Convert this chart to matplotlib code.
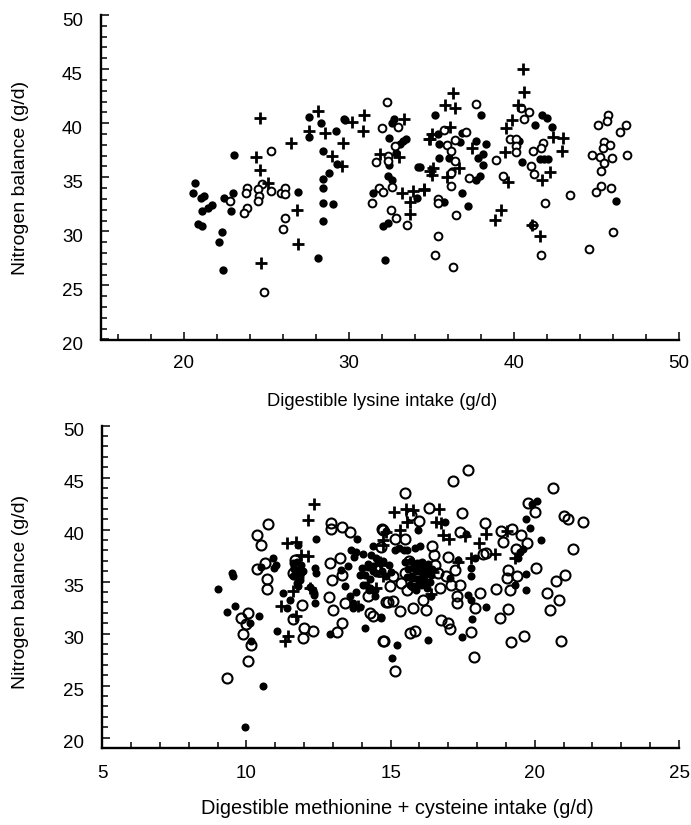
import matplotlib
matplotlib.use("Agg")
import matplotlib.pyplot as plt
from matplotlib.ticker import MultipleLocator
from matplotlib.transforms import ScaledTranslation

plt.rcParams['font.family'] = ['Liberation Sans', 'DejaVu Sans']

x_label_top = "Digestible lysine intake (g/d)"
x_label_bottom = "Digestible methionine + cysteine intake (g/d)"
y_label = "Nitrogen balance (g/d)"

# Upper panel
top_filled_x = [20.7,20.6,21.07,21.23,21.7,21.5,21.1,20.9,21.1,22.34,22.14,22.4,23.05,22.42,22.97,22.85,26.9,27.6,28.34,27.6,29.7,29.78,29.2,28.44,29.3,28.83,28.44,28.44,28.44,29.07,28.44,28.14,32.2,34.2,32.73,32.65,32.44,33.45,33.29,33.09,32.89,32.42,32.38,32.65,31.5,32.08,32.38,34.14,
    35.23,38.0,36.83,36.76,35.41,35.47,37.69,38.34,35.45,36.06,38.14,37.84,38.14,34.3,36.28,37.94,37.73,36.83,35.75,37.25,41.73,42.0,41.27,42.32,40.32,40.52,41.57,41.8,42.06,41.17,46.2]
top_filled_y = [34.45,33.56,33.1,33.3,32.4,32.15,31.84,30.7,30.5,29.9,29.0,26.47,37.03,33.04,33.56,31.87,33.65,40.55,39.97,38.74,40.37,40.3,39.27,37.42,36.26,35.43,34.85,33.96,32.64,32.55,30.95,27.55,27.36,35.95,40.34,39.97,38.65,38.56,38.35,38.04,37.27,36.14,35.1,34.75,33.56,30.5,30.77,33.1,
    40.74,40.74,39.1,38.25,38.96,38.04,38.34,38.04,36.78,36.8,37.18,36.8,36.14,35.98,35.58,35.12,34.76,33.56,32.73,32.36,40.77,40.46,39.85,39.66,38.34,36.44,36.66,36.66,36.66,30.6,32.85]
top_open_x = [25.27,23.84,23.76,22.79,23.84,23.63,24.75,24.5,24.56,24.5,25.3,25.88,26.16,26.16,26.16,26.04,24.9,32.32,32.04,33.0,32.79,32.38,32.38,31.63,32.65,31.84,32.08,31.41,32.54,32.89,33.5,
    37.73,35.77,37.09,36.46,35.98,36.22,36.46,36.22,37.27,36.22,35.41,35.41,36.52,35.41,35.25,36.34,38.93,39.35,40.46,40.93,40.64,39.75,40.12,40.12,40.1,41.13,41.77,41.67,41.03,41.19,43.39,41.88,41.17,41.63,44.56,45.98,45.71,45.63,45.09,46.8,46.42,45.45,45.8,45.37,44.72,45.2,45.96,46.87,45.47,45.29,45.27,45.9,44.95]
top_open_y = [37.4,33.96,33.53,32.76,32.18,31.72,34.36,33.9,33.3,32.76,33.74,33.56,33.96,33.44,31.23,30.2,24.4,42.0,39.57,39.66,37.88,37.0,36.5,36.44,34.14,34.05,33.6,32.61,32.0,31.2,30.6,
    41.78,39.4,39.17,38.4,37.95,37.45,36.5,35.43,34.9,34.2,32.97,32.6,31.54,29.6,27.8,26.7,36.6,35.12,41.4,41.07,40.4,38.5,38.5,37.88,37.36,37.4,38.2,37.67,36.04,35.28,33.38,32.6,30.6,27.8,28.38,29.9,40.8,40.2,39.8,39.8,39.14,38.25,37.98,37.67,37.1,36.87,36.78,37.03,36.35,35.55,34.2,34.0,33.68]
top_plus_x = [24.6,24.38,24.64,25.13,26.52,26.87,26.93,24.7,28.16,27.57,28.56,29.65,28.99,29.6,30.18,30.93,30.87,33.35,31.88,33.05,33.23,33.9,34.54,33.74,33.7,34.85,34.95,
    40.56,40.64,36.3,35.84,36.42,40.26,39.86,39.51,36.16,35.07,34.91,37.49,39.49,42.38,42.95,42.89,35.11,35.07,36.68,35.96,42.18,41.73,39.63,34.54,39.25,38.85,41.11,41.61]
top_plus_y = [40.5,36.9,35.68,34.5,38.2,32.0,28.84,27.06,41.1,39.27,39.1,38.13,36.93,36.04,40.12,40.74,39.23,40.43,37.12,36.9,33.5,33.74,33.9,32.73,31.6,38.56,35.6,
    45.0,42.9,42.8,41.66,41.44,41.72,40.28,39.57,39.66,38.96,38.56,37.73,37.33,38.71,38.6,37.4,35.9,35.2,35.86,35.03,35.5,34.73,34.6,33.84,31.96,31.04,30.6,29.6]

# Lower panel
bot_filled_x = [9.95,9.0,9.49,9.53,9.32,9.61,10.45,10.57,10.11,10.16,10.92,11.03,10.97,10.51,11.06,11.26,11.52,11.4,11.78,12.42,12.36,12.42,12.3,12.33,12.36,11.73,11.84,11.78,11.61,11.9,12.91,13.84,14.39,13.64,13.81,14.04,14.31,13.72,13.52,13.29,13.93,14.21,14.39,13.43,13.81,13.58,13.69,13.69,13.93,14.1,14.66,14.16,14.27,14.45,14.85,
    20.06,19.89,19.68,19.83,20.23,19.6,19.48,19.42,17.63,16.88,15.95,17.8,17.8,17.92,16.03,17.69,17.77,18.29,17.83,17.48,16.31,15.22,15.05,14.68,19.71,19.68,19.31,15.14,15.55,15.84,16.01,16.24,15.89,16.12,15.78,16.01,15.66,16.24,16.36,15.89,16.41,17.05,17.34,
    15.5,15.7,15.9,16.1,16.3,16.45,15.6,15.8,16.0,16.2,16.4,15.55,15.75,15.95,16.15,16.35,15.85,16.05,16.25,
    11.6,11.75,11.9,11.65,11.8,11.95,11.7,11.85,11.75,12.2,12.35,
    14.0,14.2,14.4,14.6,14.1,14.3,14.5,14.05,14.25,14.45,
    14.5,14.75,14.95,14.7,15.0,14.85,15.3,15.45]
bot_filled_y = [21.0,34.25,35.8,35.5,32.05,32.7,31.7,25.0,31.05,29.3,37.25,36.6,36.3,36.45,30.25,33.9,33.2,32.5,38.5,39.1,36.3,35.8,34.2,33.75,32.95,35.65,35.2,34.55,35.5,35.8,30.0,39.1,38.45,38.05,37.9,37.7,37.55,37.4,36.5,36.1,35.65,36.45,36.0,34.6,34.05,33.6,32.95,32.5,32.6,30.55,31.6,34.7,34.4,34.2,39.9,
    42.8,42.5,41.0,40.2,39.0,38.15,37.9,37.25,39.6,40.75,39.95,35.5,36.3,37.25,38.45,33.75,33.2,32.55,31.45,29.65,29.35,28.95,27.7,31.5,34.2,35.75,34.7,38.05,38.05,38.2,36.75,36.45,36.0,35.65,35.35,35.0,34.7,35.0,35.8,34.2,33.6,35.35,37.05,
    36.9,37.0,36.8,36.9,36.7,36.2,36.2,36.3,36.0,36.1,35.6,35.4,35.5,35.3,35.4,35.0,34.6,34.7,34.4,
    36.8,36.9,36.6,36.2,36.1,36.0,35.5,35.4,34.9,34.5,33.9,
    36.3,36.7,36.5,36.9,35.6,35.3,35.8,34.7,34.2,33.6,
    37.3,37.0,36.6,36.0,35.9,35.5,38.2,38.0]
bot_open_x = [9.32,10.06,10.16,9.87,9.99,9.82,10.05,10.74,10.36,10.49,10.36,10.63,10.72,10.72,12.92,12.92,13.3,13.59,11.67,12.91,13.23,12.98,13.31,12.86,12.99,13.43,13.31,13.15,12.3,11.98,11.96,11.61,11.93,14.74,14.71,14.68,14.27,14.39,14.21,14.83,11.73,11.61,
    17.69,17.15,15.49,20.62,19.77,20.0,16.33,17.46,15.99,15.72,18.28,21.01,21.16,21.68,17.4,18.84,19.21,19.52,18.88,19.74,19.34,21.31,16.45,16.99,16.49,18.32,18.21,15.64,20.04,21.04,20.75,19.08,19.04,19.39,18.67,19.13,18.09,20.41,20.84,20.52,19.08,18.79,17.92,17.42,17.3,17.3,16.99,16.74,17.07,15.84,15.66,14.76,15.16,17.8,17.9,19.19,19.61,20.9,15.34,15.78,16.24,14.91,15.08,16.12,14.97,15.37,16.7,17.11,15.55,15.78,15.49,15.08,16.65,16.93,17.22,16.53,15.14,14.74,15.49]
bot_open_y = [25.7,27.4,28.9,29.95,30.9,31.5,31.95,40.5,39.5,38.5,36.25,36.8,35.3,34.3,40.65,40.1,40.3,39.8,37.1,36.8,37.3,35.2,35.6,33.5,32.25,32.9,31.0,30.15,30.3,30.55,29.55,31.45,32.75,29.3,40.05,38.3,31.95,31.7,33.6,33.0,36.45,35.8,
    45.7,44.7,43.55,44.05,42.6,41.7,42.1,41.6,40.85,41.4,40.65,41.35,41.0,40.75,39.75,39.85,40.1,39.5,38.8,38.7,38.15,38.1,38.45,37.4,37.55,37.75,37.65,37.0,36.3,35.6,35.1,36.15,35.35,35.55,34.3,34.15,33.9,33.9,33.25,32.25,32.4,31.5,32.45,34.7,33.6,32.95,31.05,31.35,30.45,30.3,30.05,29.3,26.4,30.2,27.8,29.2,29.75,29.3,32.15,32.45,32.3,33.0,33.1,33.25,34.55,34.85,34.4,34.7,34.2,34.7,35.8,35.5,35.8,35.5,36.15,36.6,39.15,39.95,39.15]
bot_plus_x = [12.33,12.14,11.4,11.73,11.88,12.14,11.61,11.2,11.73,11.32,11.44,12.19,13.87,14.5,14.62,14.74,
    15.11,15.52,15.78,16.66,15.55,16.59,16.76,16.82,17.02,17.57,18.32,18.07,18.61,17.8,17.34,19.31,19.02,15.31,14.85,14.74,14.68,14.74,16.41,16.12,16.47]
bot_plus_y = [42.45,40.9,38.75,38.85,37.55,37.5,34.1,32.7,31.65,29.3,29.75,34.4,32.7,34.4,36.9,39.0,
    41.7,42.0,41.9,42.0,40.75,40.75,40.65,39.45,39.15,39.35,39.6,38.75,37.7,37.3,36.9,37.25,39.85,39.95,39.8,38.5,36.6,35.5,33.85,36.45,35.95]

W, H = 691, 825
fig = plt.figure(figsize=(W/100, H/100), dpi=100, facecolor='white')


def make_axes(l, r, t, b):
    return fig.add_axes([l/W, 1-b/H, (r-l)/W, (b-t)/H])


def style(ax, xlim, ylim, xmajor, xminor, pad_x):
    ax.set_xlim(*xlim)
    ax.set_ylim(*ylim)
    ax.spines['top'].set_visible(False)
    ax.spines['right'].set_visible(False)
    ax.spines['left'].set_linewidth(1.7)
    ax.spines['bottom'].set_linewidth(1.7)
    ax.xaxis.set_major_locator(MultipleLocator(xmajor))
    ax.xaxis.set_minor_locator(MultipleLocator(xminor))
    ax.yaxis.set_major_locator(MultipleLocator(5))
    ax.yaxis.set_minor_locator(MultipleLocator(1))
    ax.tick_params(axis='both', which='major', direction='in', length=6, width=1.1, labelsize=13.5)
    ax.tick_params(axis='both', which='minor', direction='in', length=4, width=1.1)
    ax.tick_params(axis='x', which='major', pad=pad_x)
    ax.tick_params(axis='y', which='major', pad=13)
    off = ScaledTranslation(0, -3/72, fig.dpi_scale_trans)
    for lab in ax.get_yticklabels():
        lab.set_transform(lab.get_transform() + off)


def draw(ax, fx, fy, ox, oy, px, py, open_ms, open_mew, fill_ms, open_face):
    ax.plot(fx, fy, ls='none', marker='o', ms=fill_ms, mfc='black', mec='black', mew=0, zorder=2, clip_on=False)
    ax.plot(ox, oy, ls='none', marker='o', ms=open_ms, mfc=open_face, mec='black', mew=open_mew, zorder=3, clip_on=False)
    ax.plot(px, py, ls='none', marker='+', ms=8.5, mec='black', mew=2.0, zorder=4, clip_on=False)


ax1 = make_axes(101, 679, 15, 339.5)
style(ax1, (15, 50), (20, 50), 10, 2, 11.5)
draw(ax1, top_filled_x, top_filled_y, top_open_x, top_open_y, top_plus_x, top_plus_y, 5.6, 1.4, 6.0, 'white')

ax2 = make_axes(102.3, 679, 425.7, 748)
style(ax2, (5, 25), (19, 50), 5, 1, 12.5)
draw(ax2, bot_filled_x, bot_filled_y, bot_open_x, bot_open_y, bot_plus_x, bot_plus_y, 7.2, 1.5, 5.8, 'none')

fig.text(382/W, 1-402/H, x_label_top, ha='center', va='center', fontsize=13.2)
fig.text(397/W, 1-808/H, x_label_bottom, ha='center', va='center', fontsize=14.4)
fig.text(21/W, 1-178/H, y_label, rotation=90, ha='center', va='center', fontsize=14)
fig.text(21/W, 1-592/H, y_label, rotation=90, ha='center', va='center', fontsize=14)

fig.savefig('out.png', dpi=100)
